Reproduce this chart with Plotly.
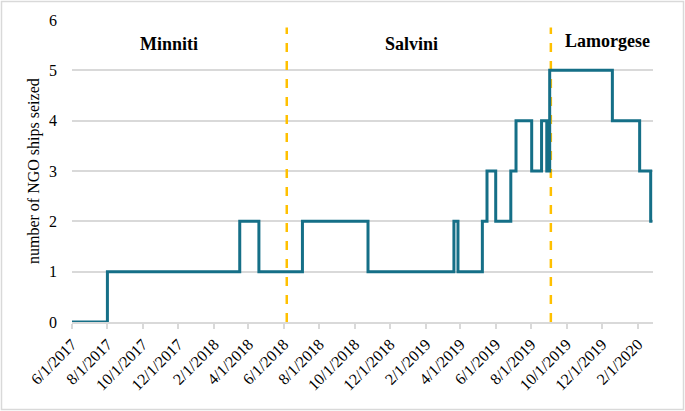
import plotly.graph_objects as go

# Step data: date of each change and the number of NGO ships seized from that date
change_dates = ["2017-06-01", "2017-08-01", "2018-03-17", "2018-04-19", "2018-07-03",
                "2018-10-24", "2019-03-21", "2019-03-28", "2019-05-09", "2019-05-17",
                "2019-06-01", "2019-06-27", "2019-07-06", "2019-08-02", "2019-08-19",
                "2019-08-28", "2019-09-02", "2019-12-19", "2020-02-04", "2020-02-23",
                "2020-02-26"]
ships_seized = [0, 1, 2, 1, 2, 1, 2, 1, 2, 3, 2, 3, 4, 3, 4, 3, 5, 4, 3, 2, 2]

# Change of interior minister
minister_changes = ["2018-06-06", "2019-09-04"]
minister_names = ["Minniti", "Salvini", "Lamorgese"]
minister_label_dates = ["2017-11-15", "2019-01-07", "2019-12-10"]
minister_label_levels = [5.52, 5.52, 5.58]

tick_dates = ["2017-06-01", "2017-08-01", "2017-10-01", "2017-12-01", "2018-02-01",
              "2018-04-01", "2018-06-01", "2018-08-01", "2018-10-01", "2018-12-01",
              "2019-02-01", "2019-04-01", "2019-06-01", "2019-08-01", "2019-10-01",
              "2019-12-01", "2020-02-01"]
tick_labels = ["6/1/2017", "8/1/2017", "10/1/2017", "12/1/2017", "2/1/2018",
               "4/1/2018", "6/1/2018", "8/1/2018", "10/1/2018", "12/1/2018",
               "2/1/2019", "4/1/2019", "6/1/2019", "8/1/2019", "10/1/2019",
               "12/1/2019", "2/1/2020"]

FONT = "Liberation Serif"
W, H = 685, 411
L, R, T, B = 72, 32, 20, 89
PW, PH = W - L - R, H - T - B

fig = go.Figure()

for d in minister_changes:
    fig.add_trace(go.Scatter(
        x=[d, d], y=[0, 5.85], mode="lines",
        line=dict(color="#FFC000", width=2.5, dash="dash"),
        hoverinfo="skip", showlegend=False))

fig.add_trace(go.Scatter(
    x=change_dates, y=ships_seized, mode="lines", line_shape="hv",
    line=dict(color="#156F87", width=3), showlegend=False))

for name, d, lv in zip(minister_names, minister_label_dates, minister_label_levels):
    fig.add_annotation(x=d, y=lv, text=f"<b>{name}</b>", xanchor="center", yanchor="middle",
                       showarrow=False, font=dict(family=FONT, size=18, color="black"))

fig.add_annotation(xref="paper", yref="paper", x=(34 - L) / PW, y=0.5,
                   xanchor="center", yanchor="middle",
                   text="number of NGO ships seized", textangle=-90, showarrow=False,
                   font=dict(family=FONT, size=16, color="black"))

# chart border
fig.add_shape(type="rect", xref="paper", yref="paper",
              x0=(1.5 - L) / PW, x1=(W - 1.5 - L) / PW,
              y0=(T + PH - (H - 1.5)) / PH, y1=(T + PH - 1.5) / PH,
              line=dict(color="#D9D9D9", width=1.5), layer="below")

fig.update_layout(
    width=W, height=H,
    margin=dict(l=L, r=R, t=T, b=B, autoexpand=False),
    plot_bgcolor="white", paper_bgcolor="white",
    font=dict(family=FONT, size=16, color="black"),
    xaxis=dict(type="date", range=["2017-06-01", "2020-02-27"],
               tickvals=tick_dates, ticktext=tick_labels, tickangle=-45,
               showgrid=False, showline=True, linecolor="#D9D9D9", linewidth=1.5,
               ticks="outside", ticklen=5, tickcolor="#D9D9D9", tickwidth=1.5,
               zeroline=False, tickfont=dict(family=FONT, size=16)),
    yaxis=dict(range=[0, 6], dtick=1, showgrid=True, gridcolor="#D9D9D9", gridwidth=1.5,
               zeroline=False, showline=False, ticks="", ticklabelstandoff=14,
               tickfont=dict(family=FONT, size=16)),
)

fig.write_html("out.html", config={"displayModeBar": False},
               post_script="document.body.style.margin='0';document.body.style.overflow='hidden';")
